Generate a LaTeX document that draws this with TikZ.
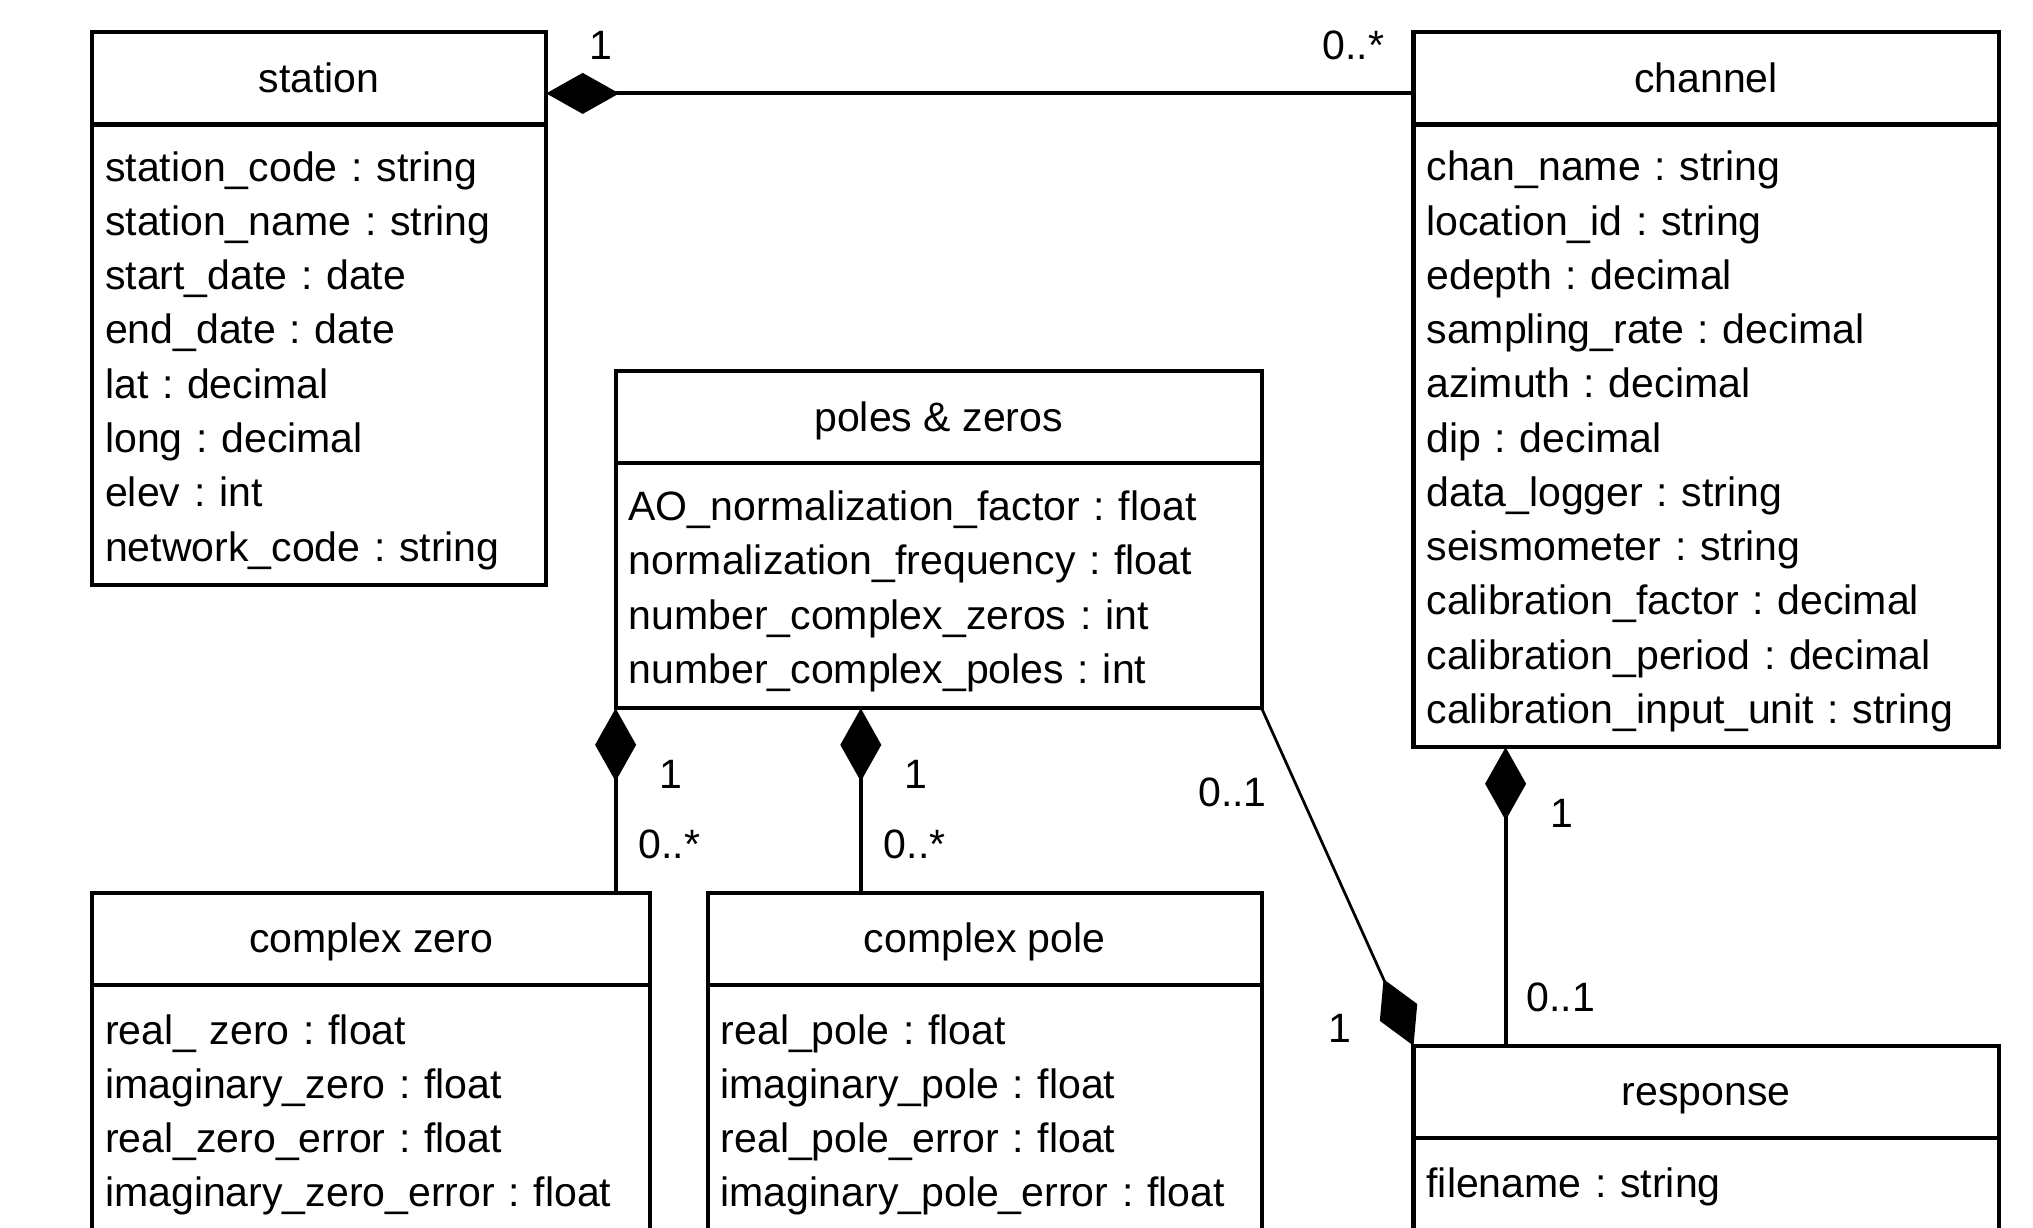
\documentclass[tikz,border=0pt]{standalone}
\usepackage{fontspec}
\setmainfont{Liberation Sans}
\frenchspacing
\usetikzlibrary{arrows.meta, positioning}
\tikzset{every picture/.style={every node/.style={font=\fontsize{9}{11.9}\selectfont}},
  cls/.style={draw, line width=0.9pt, minimum height=0.71cm, text height=8pt, text depth=1.8pt, inner sep=0pt, outer sep=0pt},
  attr/.style={draw, line width=0.9pt, align=left, inner xsep=0.1cm, inner ysep=0pt, outer sep=0pt},
  attrs/.style={attr, execute at begin node={\rule{0pt}{9pt}}},
  comp/.style={line width=0.9pt, {Diamond[length=16pt,width=9pt]}-},
  mult/.style={inner sep=0pt}}

\begin{document}
\begin{tikzpicture}
        \useasboundingbox (0,0) rectangle (15.67,-9.458);
        \clip (0,0) rectangle (15.67,-9.458);

        \node[cls, minimum width=3.50cm] (st) at (2.46, -0.605) {station};
        \node[attrs, text width=3.30cm, minimum height=3.55cm, below=0pt of st] (st-b)
          {station\_code : string\\ station\_name : string\\ start\_date : date\\ end\_date : date\\
           lat : decimal\\ long : decimal\\ elev : int\\ network\_code : string};

        \node[cls, minimum width=4.51cm] (ch) at (13.15, -0.605) {channel};
        \node[attrs, text width=4.31cm, minimum height=4.80cm, below=0pt of ch] (ch-b)
          {chan\_name : string\\ location\_id : string\\ edepth : decimal\\ sampling\_rate : decimal\\
           azimuth : decimal\\ dip : decimal\\ data\_logger : string\\ seismometer : string\\
           calibration\_factor : decimal\\ calibration\_period : decimal\\ calibration\_input\_unit : string};

        \node[cls, minimum width=4.98cm, minimum height=0.71cm] (pz) at (7.235, -3.215) {poles \& zeros};
        \node[attrs, text width=4.78cm, minimum height=1.89cm, below=0pt of pz] (pz-b)
          {AO\_normalization\_factor : float\\ normalization\_frequency : float\\
           number\_complex\_zeros : int\\ number\_complex\_poles : int};

        \node[cls, minimum width=4.30cm] (cz) at (2.86, -7.235) {complex zero};
        \node[attrs, text width=4.10cm, minimum height=1.92cm, below=0pt of cz] (cz-b)
          {real\_ zero : float\\ imaginary\_zero : float\\ real\_zero\_error : float\\ imaginary\_zero\_error : float};

        \node[cls, minimum width=4.27cm] (cp) at (7.59, -7.235) {complex pole};
        \node[attrs, text width=4.07cm, minimum height=1.92cm, below=0pt of cp] (cp-b)
          {real\_pole : float\\ imaginary\_pole : float\\ real\_pole\_error : float\\ imaginary\_pole\_error : float};

        \node[cls, minimum width=4.51cm] (rs) at (13.15, -8.415) {response};
        \node[attr, text width=4.31cm, minimum height=0.76cm, below=0pt of rs] (rs-b)
          {filename : string};

        \coordinate (c1) at ([yshift=-1.15mm]st.east);
        \coordinate (c2) at (c1 -| ch.west);
        \coordinate (c3) at (pz-b.south west);
        \coordinate (c4) at (c3 |- cz.north);
        \coordinate (c5) at ([xshift=18.9mm]pz-b.south west);
        \coordinate (c6) at (c5 |- cp.north);
        \coordinate (c7) at ([xshift=7.1mm]ch-b.south west);
        \coordinate (c8) at (c7 |- rs.north);

        \foreach \from/\to in {c1/c2, c3/c4, c5/c6, c7/c8}
        \draw[comp] (\from) -- (\to);
        \draw[comp, line width=0.6pt] (rs.north west) -- (pz-b.south east);

        \node[mult] (m1) at (4.63, -0.35) {1};
        \node[mult] (m2) at (10.43, -0.35) {0..*};
        \node[mult] (m3) at (5.17, -5.97) {1};
        \node[mult] (m4) at (5.16, -6.51) {0..*};
        \node[mult] (m5) at (7.06, -5.97) {1};
        \node[mult] (m6) at (7.05, -6.51) {0..*};
        \node[mult] (m7) at (9.50, -6.11) {0..1};
        \node[mult] (m8) at (10.33, -7.93) {1};
        \node[mult] (m9) at (12.04, -6.27) {1};
        \node[mult] (m10) at (12.03, -7.69) {0..1};
      \end{tikzpicture}
\end{document}
